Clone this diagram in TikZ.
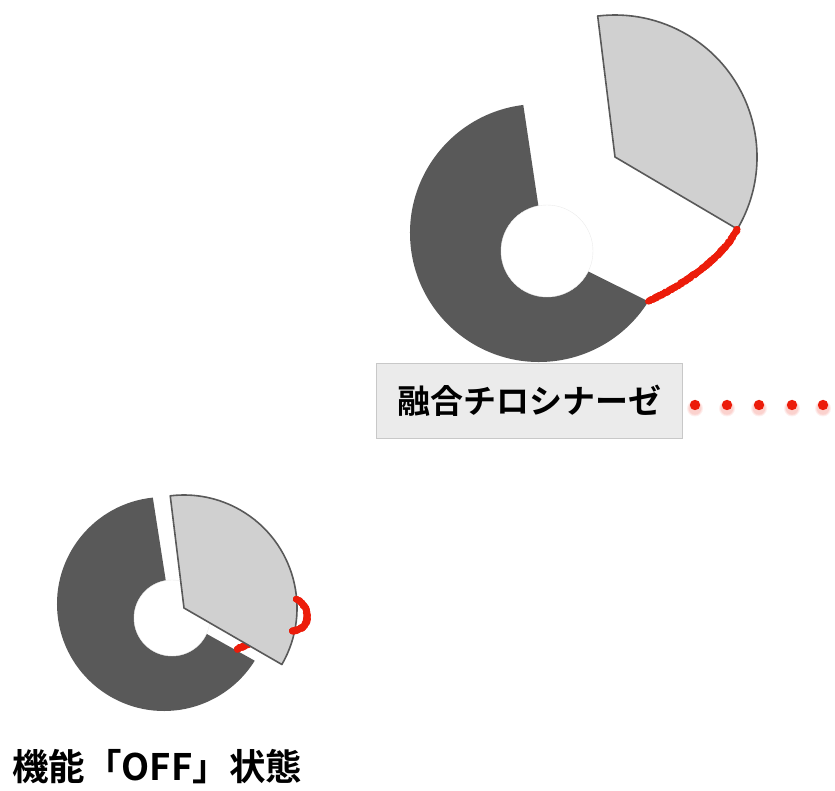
\documentclass[tikz,border=0pt]{standalone}
\usepackage{fontspec}
\newfontfamily\jpfont{Noto Sans CJK JP}[BoldFont={Noto Sans CJK JP Bold}]
\usetikzlibrary{decorations.pathmorphing}
\definecolor{ringdark}{HTML}{595959}
\definecolor{wedgelight}{HTML}{D0D0D0}
\definecolor{boxfill}{HTML}{EBEBEB}
\definecolor{boxline}{HTML}{C8C8C8}
\definecolor{linkred}{HTML}{EC1C0A}
\tikzset{
  ring/.style={fill=ringdark},
  hole/.style={fill=white, draw=black!8, line width=0.4pt},
  wedge/.style={fill=wedgelight, draw=ringdark, line width=1.6pt, line join=round},
  fuzzy/.style={draw=linkred, line width=6pt, line cap=round, line join=round,
    decorate, decoration={random steps, segment length=1.2pt, amplitude=1pt}},
  fuzzythin/.style={draw=linkred, line width=0.8pt, line cap=round, line join=round,
    decorate, decoration={random steps, segment length=0.9pt, amplitude=3.4pt}},
  labelbox/.style={fill=boxfill, draw=boxline, line width=0.8pt,
    minimum width=306pt, minimum height=75pt, inner sep=0pt,
    font=\jpfont\bfseries\fontsize{33}{33}\selectfont},
  caption/.style={font=\jpfont\bfseries\fontsize{36.5}{36.5}\selectfont, inner sep=0pt},
  dot/.style={fill=linkred, draw=none},
  dotshade/.style={fill=linkred, opacity=0.07, draw=none}
}
\begin{document}
\begin{tikzpicture}[x=1pt,y=1pt]
\useasboundingbox (0,0) rectangle (835,790);

% ---------- upper doughnut (tyrosinase, split) ----------
\fill[ring] (545,540) -- ([shift={(97:129)}]539,557)
  arc[start angle=97, end angle=328, radius=129] -- cycle;
\coordinate (ringend) at ([shift={(328:129)}]539,557);
\node[hole, circle, minimum size=92pt, inner sep=0pt] (hub) at (547,539) {};
\draw[wedge] (615,633) -- ([shift={(-30.5:142)}]615,633) coordinate (wedgeend)
  arc[start angle=-30.5, end angle=97, radius=142] -- cycle;
% red linker between the two halves
\foreach \i in {1,2,3}
  \draw[fuzzy] (ringend) .. controls (672,500) and (718,525) .. (wedgeend);
\foreach \i in {1,2,3}
  \draw[fuzzythin] (ringend) .. controls (672,500) and (718,525) .. (wedgeend);

% ---------- label ----------
\node[labelbox] (lbl) at (529,389.5) {融合チロシナーゼ};

% dotted continuation
\foreach \x [count=\k] in {695,727,759,792,823} {
  \foreach \r in {8,7,6.2}
    \fill[dotshade] (\x,381.5) circle (\r pt);
  \fill[dot] (\x,385) circle (5.2pt) coordinate (d\k);
}

% ---------- lower doughnut (closed) ----------
\fill[ring] (171,176) -- ([shift={(96:107)}]164,186)
  arc[start angle=96, end angle=328, radius=107] -- cycle;
\node[hole, circle, minimum size=76pt, inner sep=0pt] (hubb) at (172,172) {};
\coordinate (lkA) at (237,141);
\coordinate (lkB) at (251,147);
\foreach \i in {1,2,3}
  \draw[fuzzy] (lkA) -- (lkB);
\foreach \i in {1,2}
  \draw[fuzzythin] (lkA) -- (lkB);
\draw[wedge] (184,182) -- ([shift={(-30:113)}]184,182)
  arc[start angle=-30, end angle=97, radius=113] -- cycle;
\coordinate (curlA) at (296,191);
\coordinate (curlB) at (292,159);
\foreach \i in {1,2,3}
  \draw[fuzzy] (curlA) .. controls (312,183) and (311,160) .. (curlB);
\foreach \i in {1,2,3}
  \draw[fuzzythin] (curlA) .. controls (312,183) and (311,160) .. (curlB);

% ---------- caption ----------
\node[caption, anchor=west] (cap) at (12,23) {機能「OFF」状態};
\end{tikzpicture}
\end{document}
